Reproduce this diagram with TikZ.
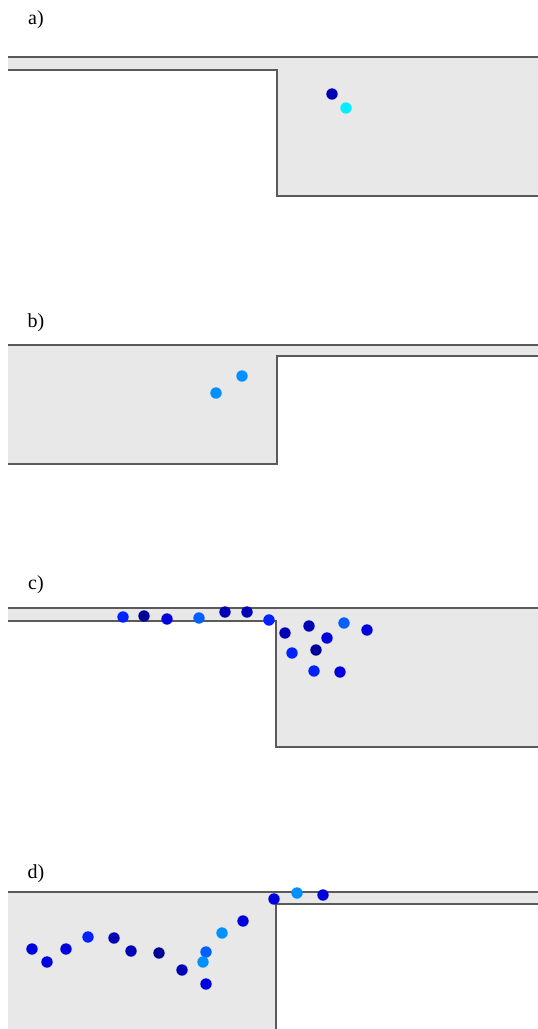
\documentclass[tikz,border=0pt]{standalone}
\usepackage{fontspec}
\setmainfont{Liberation Serif}
\definecolor{wall}{HTML}{5A5A5A}
\definecolor{duct}{HTML}{E8E8E8}
\definecolor{pnavy}{HTML}{000099}
\definecolor{pdark}{HTML}{0000B4}
\definecolor{pblue}{HTML}{0000DD}
\definecolor{pbright}{HTML}{0022FF}
\definecolor{pmid}{HTML}{0060FF}
\definecolor{plight}{HTML}{0090FF}
\definecolor{pcyan}{HTML}{00EEFF}
\tikzset{
  panel/.style={fill=duct, draw=none},
  wallline/.style={draw=wall, line width=1.3pt},
  tag/.style={font=\fontsize{20}{24}\selectfont},
}

\begin{document}
\begin{tikzpicture}[x=1pt, y=-1pt]
		\useasboundingbox (0,0) rectangle (538,1029);
		
		% a) narrow channel opening into a wide one
		\coordinate (a1) at (8,57);   \coordinate (a2) at (538,57);
		\coordinate (a3) at (538,196); \coordinate (a4) at (277,196);
		\coordinate (a5) at (277,70); \coordinate (a6) at (8,70);
		\fill[panel] (a1) -- (a2) -- (a3) -- (a4) -- (a5) -- (a6) -- cycle;
		\draw[wallline] (a1) -- (a2);
		\draw[wallline] (a6) -- (a5) -- (a4) -- (a3);
		\node[tag] (la) at (36,20) {a)};
		\fill[pdark] (332,94) circle (5.7);
		\fill[pcyan] (346,108) circle (5.7);
		
		% b) wide channel narrowing
		\coordinate (b1) at (8,345);   \coordinate (b2) at (538,345);
		\coordinate (b3) at (538,356); \coordinate (b4) at (277,356);
		\coordinate (b5) at (277,464); \coordinate (b6) at (8,464);
		\fill[panel] (b1) -- (b2) -- (b3) -- (b4) -- (b5) -- (b6) -- cycle;
		\draw[wallline] (b1) -- (b2);
		\draw[wallline] (b3) -- (b4) -- (b5) -- (b6);
		\node[tag] (lb) at (36,323) {b)};
		\fill[plight] (242,376) circle (5.7);
		\fill[plight] (216,393) circle (5.7);
		
		% c)
		\coordinate (c1) at (8,608);   \coordinate (c2) at (538,608);
		\coordinate (c3) at (538,747); \coordinate (c4) at (276,747);
		\coordinate (c5) at (276,621); \coordinate (c6) at (8,621);
		\fill[panel] (c1) -- (c2) -- (c3) -- (c4) -- (c5) -- (c6) -- cycle;
		\draw[wallline] (c1) -- (c2);
		\draw[wallline] (c6) -- (c5) -- (c4) -- (c3);
		\node[tag] (lc) at (36,585) {c)};
		\fill[pbright] (123,617) circle (5.7);
		\fill[pnavy] (144,616) circle (5.7);
		\fill[pblue] (167,619) circle (5.7);
		\fill[pmid] (199,618) circle (5.7);
		\fill[pdark] (225,612) circle (5.7);
		\fill[pdark] (247,612) circle (5.7);
		\fill[pbright] (269,620) circle (5.7);
		\fill[pdark] (285,633) circle (5.7);
		\fill[pdark] (309,626) circle (5.7);
		\fill[pmid] (344,623) circle (5.7);
		\fill[pblue] (367,630) circle (5.7);
		\fill[pblue] (327,638) circle (5.7);
		\fill[pbright] (292,653) circle (5.7);
		\fill[pnavy] (316,650) circle (5.7);
		\fill[pbright] (314,671) circle (5.7);
		\fill[pblue] (340,672) circle (5.7);
		
		% d)
		\coordinate (d1) at (8,892);   \coordinate (d2) at (538,892);
		\coordinate (d3) at (538,904); \coordinate (d4) at (276,904);
		\coordinate (d5) at (276,1029); \coordinate (d6) at (8,1029);
		\fill[panel] (d1) -- (d2) -- (d3) -- (d4) -- (d5) -- (d6) -- cycle;
		\draw[wallline] (d1) -- (d2);
		\draw[wallline] (d3) -- (d4) -- (d5);
		\node[tag] (ld) at (36,874) {d)};
		\fill[pblue] (32,949) circle (5.7);
		\fill[pblue] (47,962) circle (5.7);
		\fill[pblue] (66,949) circle (5.7);
		\fill[pbright] (88,937) circle (5.7);
		\fill[pdark] (114,938) circle (5.7);
		\fill[pdark] (131,951) circle (5.7);
		\fill[pnavy] (159,953) circle (5.7);
		\fill[pdark] (182,970) circle (5.7);
		\fill[pmid] (206,952) circle (5.7);
		\fill[plight] (203,962) circle (5.7);
		\fill[pblue] (206,984) circle (5.7);
		\fill[plight] (222,933) circle (5.7);
		\fill[pblue] (243,921) circle (5.7);
		\fill[pblue] (274,899) circle (5.7);
		\fill[plight] (297,893) circle (5.7);
		\fill[pblue] (323,895) circle (5.7);
\end{tikzpicture}
\end{document}
